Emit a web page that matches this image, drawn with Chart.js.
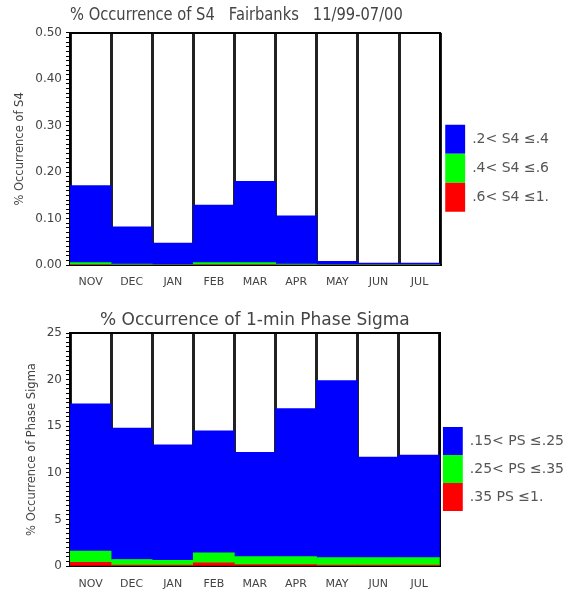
<!DOCTYPE html>
<html>
<head>
<meta charset="utf-8">
<title>% Occurrence of S4 / Phase Sigma - Fairbanks</title>
<script src="https://cdn.jsdelivr.net/npm/chart.js@4.4.1/dist/chart.umd.min.js"></script>
<style>
  body { margin: 0; background: #fff; }
  canvas { display: block; }
</style>
</head>
<body>
<canvas id="canvasS4" width="576" height="290"></canvas>
<canvas id="canvasSigma" width="576" height="302"></canvas>
<script>
var months = ["NOV", "DEC", "JAN", "FEB", "MAR", "APR", "MAY", "JUN", "JUL"];

// S4 occurrence (%), one array per bin, stacked red -> green -> blue
var s4High = [0.001, 0, 0, 0.001, 0.001, 0, 0, 0, 0];
var s4Mid = [0.004, 0.002, 0.001, 0.004, 0.004, 0.002, 0.001, 0.001, 0.001];
var s4Low = [0.166, 0.080, 0.046, 0.124, 0.175, 0.104, 0.007, 0.003, 0.003];
var s4Labels = [".6< S4 ≤1.", ".4< S4 ≤.6", ".2< S4 ≤.4"];

// phase sigma occurrence (%)
var psHigh = [0.4, 0.1, 0.1, 0.35, 0.15, 0.15, 0.1, 0.1, 0.1];
var psMid = [1.2, 0.6, 0.5, 1.05, 0.85, 0.85, 0.8, 0.8, 0.8];
var psLow = [15.8, 14.1, 12.4, 13.1, 11.2, 15.9, 19.0, 10.8, 11.0];
var psLabels = [".35 PS ≤1.", ".25< PS ≤.35", ".15< PS ≤.25"];

var colors = ["#ff0000", "#00ff00", "#0000ff"];

Chart.defaults.font.family = "'DejaVu Sans', sans-serif";
Chart.defaults.color = "#444";

function makeChart(canvasId, o) {
  var ctx = document.getElementById(canvasId).getContext("2d");
  var datasets = [];
  for (var i = 0; i < o.series.length; i++) {
    datasets.push({
      label: o.labels[i],
      data: o.series[i],
      backgroundColor: colors[i],
      borderWidth: 0,
      barPercentage: 1,
      categoryPercentage: 1,
    });
  }

  return new Chart(ctx, {
    type: "bar",
    data: { labels: months, datasets: datasets },
    options: {
      responsive: false,
      animation: false,
      layout: { padding: { right: o.padRight } },
      plugins: {
        tooltip: { enabled: false },
        title: {
          display: true,
          text: o.title,
          fullSize: false,
          color: "#444",
          font: { size: 17, weight: "normal" },
          padding: { top: o.titleTop, bottom: o.titleBottom },
        },
        legend: {
          position: "right",
          fullSize: false,
          reverse: true,
          maxWidth: 200,
          //empty title only pushes the boxes down a bit
          title: { display: true, text: "", font: { size: 14 }, padding: { top: 0, bottom: 22 } },
          labels: {
            boxWidth: 20,
            boxHeight: o.boxHeight,
            padding: 0,
            color: "#555",
            font: { size: 14 },
          },
        },
      },
      scales: {
        x: {
          stacked: true,
          z: 1,
          grid: { color: "#222", lineWidth: 3, drawTicks: false, offset: true },
          border: { color: "#000", width: 2 },
          ticks: { color: "#444", font: { size: 11 }, padding: o.xPad },
          afterFit: function (s) { s.height = o.xHeight; },
        },
        xTop: {
          position: "top",
          grid: { drawOnChartArea: false, drawTicks: false },
          border: { color: "#000", width: 2 },
          ticks: { display: false },
          afterFit: function (s) { s.height = 0; },
        },
        y: {
          stacked: true,
          min: 0,
          max: o.yMax,
          afterFit: function (s) { s.width = 70; },
          grid: { drawOnChartArea: false, tickLength: 4, tickColor: "#000" },
          border: { color: "#000", width: 2 },
          ticks: {
            stepSize: o.yStep,
            autoSkip: false,
            padding: 4,
            color: "#444",
            font: { size: 12 },
            callback: function (v) {
              var r = v / o.yMajor;
              return Math.abs(r - Math.round(r)) < 1e-6 ? v.toFixed(o.decimals) : "";
            },
          },
          title: {
            display: true,
            text: o.yTitle,
            color: "#444",
            font: { size: 11.5 },
            padding: { top: o.yTitlePad, bottom: 0 },
          },
        },
        yRight: {
          position: "right",
          min: 0,
          max: o.yMax,
          grid: { drawOnChartArea: false, drawTicks: false },
          border: { color: "#000", width: 2 },
          ticks: { display: false },
          afterFit: function (s) { s.width = o.rightWidth; },
        },
      },
    },
  });
}

makeChart("canvasS4", {
  // trailing blanks keep the long title a bit left, like the original plot
  title: "% Occurrence of S4   Fairbanks   11/99-07/00        ",
  series: [s4High, s4Mid, s4Low],
  labels: s4Labels,
  yMax: 0.5,
  yStep: 0.01,
  yMajor: 0.1,
  decimals: 2,
  yTitle: "% Occurrence of S4",
  yTitlePad: 13,
  titleTop: 5.5,
  titleBottom: 7,
  xPad: 11,
  xHeight: 25,
  boxHeight: 29,
  padRight: 17,
  rightWidth: 5,
});

makeChart("canvasSigma", {
  title: "% Occurrence of 1-min Phase Sigma",
  series: [psHigh, psMid, psLow],
  labels: psLabels,
  yMax: 25,
  yStep: 0.5,
  yMajor: 5,
  decimals: 0,
  yTitle: "% Occurrence of Phase Sigma",
  yTitlePad: 25,
  titleTop: 20.8,
  titleBottom: 1.8,
  xPad: 12,
  xHeight: 26,
  boxHeight: 28,
  padRight: 2,
  rightWidth: 3,
});
</script>
</body>
</html>
